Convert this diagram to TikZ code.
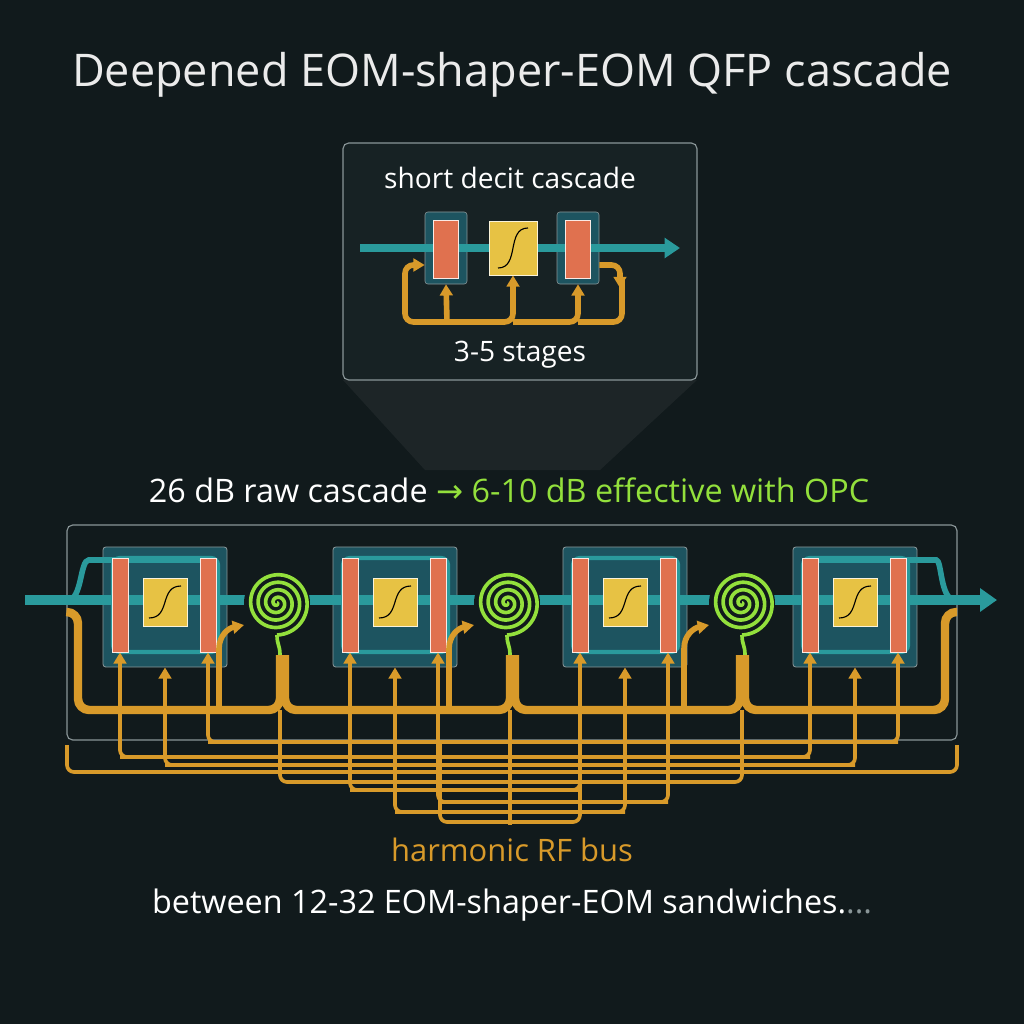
\documentclass[tikz,border=0pt]{standalone}
\usepackage{fontspec}
\setmainfont{Open Sans}
\newfontfamily\symfont{DejaVu Sans}
\usetikzlibrary{arrows.meta, positioning, calc}
\definecolor{bgdark}{HTML}{111A1C}
\definecolor{panel}{HTML}{172224}
\definecolor{teal}{HTML}{2A9A9C}
\definecolor{modfill}{HTML}{1D5460}
\definecolor{eomred}{HTML}{E0714F}
\definecolor{shapery}{HTML}{E7C244}
\definecolor{busor}{HTML}{D89A2A}
\definecolor{spgreen}{HTML}{93E03C}
\definecolor{frame}{HTML}{8A9698}
\tikzset{
  modbox/.style={draw=frame, fill=modfill, rounded corners=2pt, line width=0.6pt, minimum width=3.1cm, minimum height=3cm},
  eombar/.style={draw=white!85!eomred, fill=eomred, line width=0.6pt, minimum width=0.4cm, minimum height=2.35cm, inner sep=0pt},
  shaperbox/.style={draw=white!80!shapery, fill=shapery, line width=0.6pt, minimum width=1.1cm, minimum height=1.2cm, inner sep=0pt},
  beam/.style={teal, line width=7pt},
  bus/.style={busor, line width=6pt, rounded corners=8pt},
  feed/.style={busor, line width=2.6pt, rounded corners=5pt},
  tip/.style={-{Triangle[length=8pt,width=9pt]}},
  txt/.style={text=white, font=\fontsize{20}{24}\selectfont}
}
\begin{document}
\begin{tikzpicture}[x=0.025cm, y=-0.025cm]
\fill[bgdark] (0,0) rectangle (1024,1024);
\useasboundingbox (0,0) rectangle (1024,1024);

% title
\node[text=white!92!black, font=\fontsize{32}{38}\selectfont] (title) at (512,75) {Deepened EOM-shaper-EOM QFP cascade};

% zoom funnel
\fill[white, opacity=0.05] (343,380) -- (697,380) -- (600,470) -- (425,470) -- cycle;

% inset
\draw[frame, fill=panel, rounded corners=4pt, line width=0.8pt] (343,143) rectangle (697,380);
\node[txt] (insettitle) at (510,178) {short decit cascade};
\node[draw=frame, fill=modfill, rounded corners=2pt, minimum width=1.05cm, minimum height=1.8cm] (io1) at (446,248) {};
\node[draw=frame, fill=modfill, rounded corners=2pt, minimum width=1.05cm, minimum height=1.8cm] (io2) at (578,248) {};
\draw[beam, line width=5pt, -{Triangle[length=11pt,width=14pt]}] (360,248) -- (680,248);
\node[eombar, minimum width=0.62cm, minimum height=1.45cm] (ie1) at (446,249) {};
\node[eombar, minimum width=0.62cm, minimum height=1.45cm] (ie2) at (578,249) {};
\node[shaperbox, minimum width=1.2cm, minimum height=1.35cm] (is) at (513,248) {};
\draw[black, line width=0.8pt] (498,268) .. controls (520,268) and (506,228) .. (528,228);
\draw[feed, line width=4pt, rounded corners=6pt, tip] (447,322) -- (405,322) -- (405,265) -- (io1.west |- 0,265);
\draw[feed, line width=4pt, rounded corners=6pt, tip] (447,322) -- (io1.south);
\draw[feed, line width=4pt, rounded corners=6pt, tip] (447,322) -- (513,322) -- (is.south);
\draw[feed, line width=4pt, rounded corners=6pt, tip] (513,322) -- (578,322) -- (io2.south);
\draw[feed, line width=4pt, rounded corners=6pt] (578,322) -- (622,322) -- (622,280);
\draw[feed, line width=4pt, rounded corners=6pt, tip] (io2.east |- 0,265) -- (620,265) -- (620,288);
\node[txt] (stages) at (520,355) {3-5 stages};

% caption
\node[txt, font=\fontsize{23}{27}\selectfont] (caption) at (509,490) {26 dB raw cascade \textcolor{spgreen}{{\symfont →} 6-10 dB effective with OPC}};

% main frame
\draw[frame, rounded corners=4pt, line width=0.8pt] (67,525) rectangle (957,740);

% modules
\foreach \i/\x in {1/103,2/333,3/563,4/793} {
  \node[modbox] (m\i) at (\x+62,607) {};
  \draw[teal, line width=3pt, rounded corners=5pt] (\x+10,558) rectangle (\x+115,652);
}
% beam with bypass ends
\draw[beam, -{Triangle[length=12pt,width=16pt]}] (25,600) -- (997,600);
\draw[beam, line width=4pt, rounded corners=8pt] (68,600) .. controls (82,600) and (80,560) .. (100,560) -- (215,560);
\draw[beam, line width=4pt, rounded corners=8pt] (955,600) .. controls (940,600) and (942,560) .. (925,560) -- (805,560);
\foreach \i/\x in {1/103,2/333,3/563,4/793} {
  \node[eombar] (ea\i) at (\x+17,605) {};
  \node[eombar] (eb\i) at (\x+105,605) {};
  \node[shaperbox] (s\i) at (\x+62,602) {};
  \draw[black, line width=0.8pt] ($(s\i)+(-16,16)$) .. controls ($(s\i)+(6,16)$) and ($(s\i)+(-6,-16)$) .. ($(s\i)+(16,-16)$);
}

% spirals
\foreach \j/\cx in {1/277,2/507,3/742} {
  \coordinate (sp\j) at (\cx,603);
  \draw[fill=bgdark, draw=none] (sp\j) circle (33);
  \draw[spgreen, line width=2.6pt] plot[domain=0:1530, samples=240] ({\cx+\x/1530*32*cos(\x)}, {603+\x/1530*32*sin(\x)});
  \draw[spgreen, line width=2.6pt] (\cx,635) .. controls (\cx,645) and (\cx+3,645) .. (\cx+3,655);
}

% main bus
\draw[bus] (67,612) -- (78,612) -- (78,710) -- (280,710) -- (280,655);
\draw[bus] (285,655) -- (285,710) -- (510,710) -- (510,655);
\draw[bus] (515,655) -- (515,710) -- (740,710) -- (740,655);
\draw[bus] (745,655) -- (745,710) -- (945,710) -- (945,612) -- (957,612);
\foreach \j/\cx in {1/277,2/507,3/742}
  \draw[bus, line width=4pt, tip] (\cx-58,710) -- (\cx-58,660) .. controls (\cx-58,635) and (\cx-48,628) .. (\cx-33,625);

% lower harmonic lines
\draw[feed] (67,745) -- (67,772) -- (957,772) -- (957,745);
\foreach \a/\b/\y in {1/4/757, 2/3/790} {
  \draw[feed, tip] (ea\b.south |- 0,\y) -- (ea\a.south |- 0,\y) -- (ea\a.south);
  \draw[feed, tip] (ea\a.south |- 0,\y) -- (ea\b.south |- 0,\y) -- (ea\b.south);
}
\foreach \a/\b/\y in {1/4/742, 2/3/802} {
  \draw[feed, tip] (eb\a.south |- 0,\y) -- (eb\b.south |- 0,\y) -- (eb\b.south);
  \draw[feed, tip] (eb\b.south |- 0,\y) -- (eb\a.south |- 0,\y) -- (eb\a.south);
}
\foreach \a/\b/\y in {1/4/765, 2/3/812} {
  \draw[feed, tip] (m\a.south |- 0,\y) -- (m\b.south |- 0,\y) -- (m\b.south);
  \draw[feed, tip] (m\b.south |- 0,\y) -- (m\a.south |- 0,\y) -- (m\a.south);
}
\draw[feed] (280,710) -- (280,782) -- (742,782) -- (742,710);
\draw[feed] (510,710) -- (510,825);
\draw[feed] (440,740) -- (440,822) -- (580,822) -- (580,740);

\node[text=busor, font=\fontsize{22}{26}\selectfont] (buslabel) at (512,850) {harmonic RF bus};
\node[txt, font=\fontsize{23}{27}\selectfont] (footer) at (512,905) {between 12-32 EOM-shaper-EOM sandwiches.\textcolor{frame}{...}};
\end{tikzpicture}
\end{document}
